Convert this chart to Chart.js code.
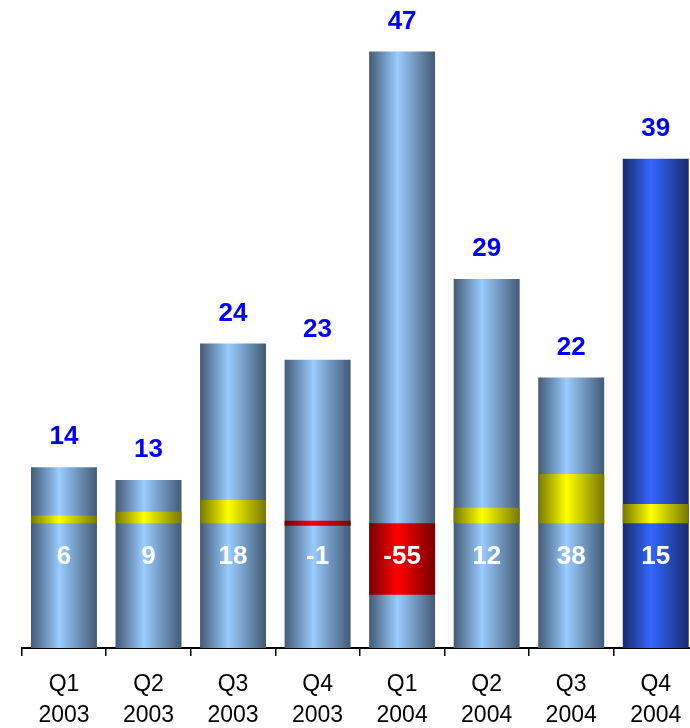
<!DOCTYPE html>
<html>
<head>
<meta charset="utf-8">
<script src="https://cdn.jsdelivr.net/npm/chart.js@4.4.1/dist/chart.umd.min.js"></script>
<style>
  html, body { margin: 0; padding: 0; background: #fff; overflow: hidden; }
  #wrap { width: 698px; height: 728px; }
</style>
</head>
<body>
<div id="wrap"><canvas id="chart" width="698" height="728"></canvas></div>
<script>
// values
var quarters = [['Q1', '2003'], ['Q2', '2003'], ['Q3', '2003'], ['Q4', '2003'],
                ['Q1', '2004'], ['Q2', '2004'], ['Q3', '2004'], ['Q4', '2004']];
var totals = [14.3, 13.3, 24.1, 22.8, 47.2, 29.2, 21.4, 38.7];
var totalLabels = ['14', '13', '24', '23', '47', '29', '22', '39'];
var changes = [6, 9, 18, -1, -55, 12, 38, 15];
var highlight = [false, false, false, false, false, false, false, true];

var FONT = "Arial, 'Liberation Sans', sans-serif";
var BAR_PCT = 0.78;

function barGradient(ctx, edge, mid) {
  var chart = ctx.chart;
  var xs = chart.scales.x;
  if (!chart.chartArea || !xs) return mid;
  var cx = xs.getPixelForValue(ctx.dataIndex);
  var w = xs.width / quarters.length * BAR_PCT;
  var g = chart.ctx.createLinearGradient(cx - w / 2, 0, cx + w / 2, 0);
  g.addColorStop(0, edge);
  g.addColorStop(0.43, mid);
  g.addColorStop(1, edge);
  return g;
}

var labelPlugin = {
  id: 'labels',
  afterDatasetsDraw: function(chart) {
    var c = chart.ctx;
    var meta = chart.getDatasetMeta(1);
    var zero = chart.scales.y2.getPixelForValue(0);
    c.save();
    c.textAlign = 'center';
    c.textBaseline = 'middle';
    c.font = 'bold 26px ' + FONT;
    meta.data.forEach(function(bar, i) {
      c.fillStyle = '#0000ff';
      c.fillText(totalLabels[i], bar.x, bar.y - 30);
      c.fillStyle = '#ffffff';
      c.fillText(String(changes[i]), bar.x, zero + 33);
    });
    c.restore();
  }
};

new Chart(document.getElementById('chart'), {
  type: 'bar',
  data: {
    labels: quarters,
    datasets: [{
      label: 'change',
      data: changes.map(function(v) { return [0, v]; }),
      yAxisID: 'y2',
      grouped: false,
      minBarLength: 5,
      barPercentage: BAR_PCT,
      categoryPercentage: 1,
      backgroundColor: function(ctx) {
        return changes[ctx.dataIndex] < 0
          ? barGradient(ctx, '#780000', '#ff0000')
          : barGradient(ctx, '#787800', '#ffff00');
      }
    }, {
      label: 'total',
      data: totals,
      yAxisID: 'y',
      grouped: false,
      barPercentage: BAR_PCT,
      categoryPercentage: 1,
      backgroundColor: function(ctx) {
        return highlight[ctx.dataIndex]
          ? barGradient(ctx, '#182c6c', '#3366ff')
          : barGradient(ctx, '#435a76', '#99ccff');
      }
    }]
  },
  options: {
    responsive: false,
    animation: false,
    layout: { padding: { top: 16, left: 21.7, right: 0, bottom: 0 } },
    plugins: { legend: { display: false }, tooltip: { enabled: false } },
    scales: {
      x: {
        grid: { offset: true, drawOnChartArea: false, drawTicks: true, tickLength: 8, color: '#000', lineWidth: 1.5 },
        border: { display: true, color: '#000', width: 2 },
        ticks: { color: '#000', font: { family: FONT, size: 23, lineHeight: 1.35 }, padding: 13, maxRotation: 0 },
        afterFit: function(scale) { scale.height = 80; }
      },
      y: { display: false, min: 0, max: 50 },
      y2: { display: false, min: -96, max: 390.8 }
    }
  },
  plugins: [labelPlugin]
});
</script>
</body>
</html>
